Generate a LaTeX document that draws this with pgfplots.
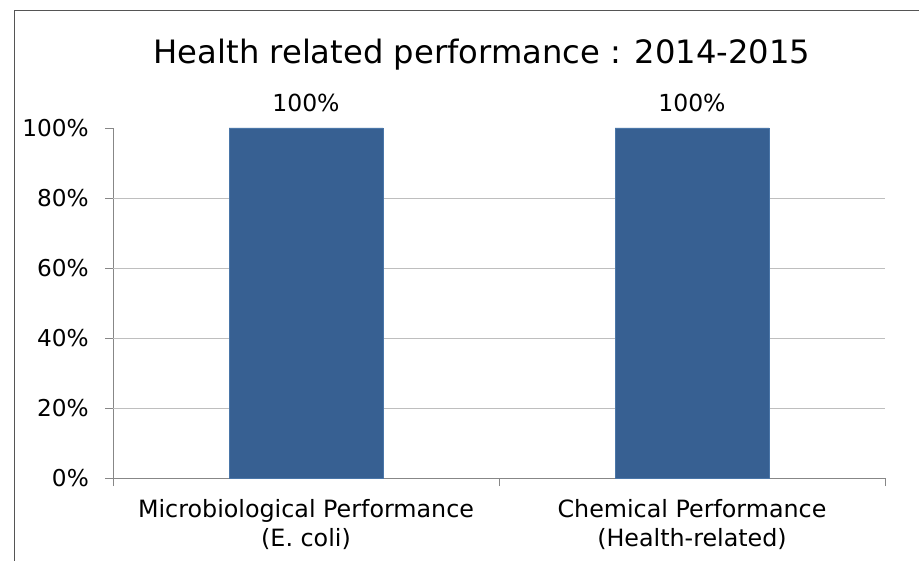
\documentclass[border=0pt]{standalone}
\usepackage{pgfplots}
\pgfplotsset{compat=1.18}
\usepackage{fontspec}
\setmainfont{DejaVu Sans}
\definecolor{barblue}{HTML}{376092}
\definecolor{baredge}{HTML}{4A76A8}
\definecolor{axisgray}{HTML}{878787}
\definecolor{gridgray}{HTML}{BEBEBE}
\definecolor{framegray}{HTML}{555555}

\begin{document}
\begin{tikzpicture}
\begin{axis}[
  at={(113pt,82pt)}, anchor=south west,
  scale only axis, width=772pt, height=350pt,
  xmin=-0.5, xmax=1.5, ymin=0, ymax=100,
  axis x line*=bottom, axis y line*=left,
  axis line style={-, draw=axisgray, line width=0.9pt},
  tick align=outside, major tick length=8pt,
  tick style={draw=axisgray, line width=0.9pt},
  xtick={-0.5,0.5,1.5}, xticklabels={},
  extra x ticks={0,1},
  extra x tick labels={{Microbiological Performance\\(E. coli)},{Chemical Performance\\(Health-related)}},
  extra x tick style={major tick length=0pt,
    tick label style={font=\fontsize{23.8}{29}\selectfont, align=center, inner sep=0pt, yshift=-21pt}},
  ytick={0,20,40,60,80,100},
  yticklabel={\pgfmathprintnumber{\tick}\%},
  yticklabel style={font=\fontsize{23.2}{27}\selectfont, inner sep=0pt, xshift=-16pt},
  extra y ticks={20,40,60,80}, extra y tick labels={},
  extra y tick style={grid=major, major tick length=0pt},
  major grid style={draw=gridgray, line width=0.9pt},
  /pgf/number format/assume math mode=true,
  ybar, bar width=154pt,
  nodes near coords={\pgfmathprintnumber{\pgfplotspointmeta}\%},
  nodes near coords style={font=\fontsize{23.5}{27}\selectfont, anchor=base, inner sep=0pt, yshift=16pt},
  clip=false,
]
\addplot[fill=barblue, draw=baredge, line width=0.8pt] coordinates {(0,100) (1,100)};
\end{axis}
\node[anchor=base, font=\fontsize{32.2}{36}\selectfont] at (482pt,496pt)
  {Health related performance : 2014-2015};
\draw[framegray, line width=1pt] (14pt,-10pt) -- (14pt,549pt) -- (940pt,549pt);
\pgfresetboundingbox
\useasboundingbox (0,0) rectangle (919pt,560pt);
\end{tikzpicture}
\end{document}
